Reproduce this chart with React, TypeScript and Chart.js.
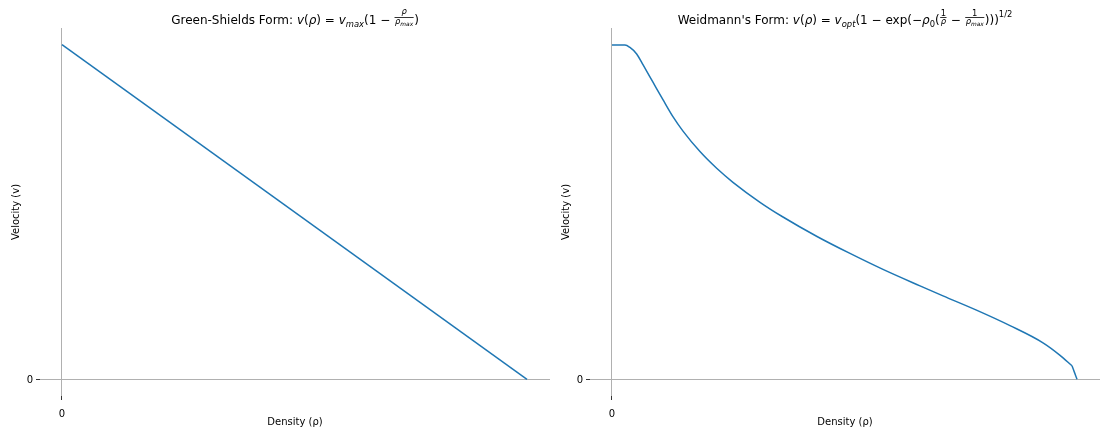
import React, { useEffect, useRef } from "react";
import { Chart, registerables } from "chart.js";

Chart.register(...registerables);

// ---------- data ----------
const greenDensity = [0, 5.4];
const greenVelocity = [1.34, 0];

// smooth part of Weidmann curve
const weidDensity = [0, 0.151, 0.209, 0.287, 0.36, 0.476, 0.592, 0.708, 0.825, 1.022, 1.219, 1.405, 1.719, 1.986, 2.381, 2.764, 3.147, 3.577, 3.844, 4.239, 4.622, 5.005, 5.203, 5.342];
const weidVelocity = [1.339, 1.339, 1.329, 1.303, 1.26, 1.19, 1.12, 1.052, 0.994, 0.912, 0.844, 0.789, 0.709, 0.65, 0.572, 0.504, 0.44, 0.374, 0.334, 0.276, 0.215, 0.146, 0.096, 0.054];
// final straight drop to jam density
const weidEndDensity = [5.342, 5.4];
const weidEndVelocity = [0.054, 0];

const xTicks = [0];
const yTicks = [0];
const xTickLabels = ["0"];
const yTickLabels = ["0"];

const X_MIN = -0.255;
const X_MAX = 5.667;
const Y_MIN = -0.067;
const Y_MAX = 1.407;

const xLabelText = "Density (ρ)";
const yLabelText = "Velocity (v)";

// ---------- math text ----------
type Seg =
  | { t: string; it?: boolean }
  | { sub: Seg[] }
  | { sup: Seg[] }
  | { num: Seg[]; den: Seg[] };

const FAM = '"DejaVu Sans"';
const fnt = (size: number, it?: boolean) => `${it ? "italic " : ""}${size}px ${FAM}`;

function box(ctx: CanvasRenderingContext2D, segs: Seg[], size: number, dy = 0) {
  let asc = 0, desc = 0;
  for (const s of segs) {
    if ("t" in s) {
      ctx.font = fnt(size, s.it);
      const m = ctx.measureText(s.t);
      asc = Math.max(asc, m.actualBoundingBoxAscent - dy);
      desc = Math.max(desc, m.actualBoundingBoxDescent + dy);
    } else if ("sub" in s) {
      const b = box(ctx, s.sub, size * 0.7, dy + size * 0.22);
      asc = Math.max(asc, b.asc); desc = Math.max(desc, b.desc);
    } else if ("sup" in s) {
      const b = box(ctx, s.sup, size * 0.7, dy - size * 0.55);
      asc = Math.max(asc, b.asc); desc = Math.max(desc, b.desc);
    }
  }
  return { asc, desc };
}

function render(ctx: CanvasRenderingContext2D, segs: Seg[], size: number, x: number, y: number, draw: boolean): number {
  let cx = x;
  for (const s of segs) {
    if ("t" in s) {
      ctx.font = fnt(size, s.it);
      const w = ctx.measureText(s.t).width;
      if (draw) ctx.fillText(s.t, cx, y);
      cx += w;
    } else if ("sub" in s) {
      cx += render(ctx, s.sub, size * 0.7, cx, y + size * 0.22, draw);
    } else if ("sup" in s) {
      cx += render(ctx, s.sup, size * 0.7, cx, y - size * 0.55, draw);
    } else {
      const fs = size * 0.7;
      const wn = render(ctx, s.num, fs, 0, 0, false);
      const wd = render(ctx, s.den, fs, 0, 0, false);
      const w = Math.max(wn, wd) + 2;
      if (draw) {
        const bar = y - size * 0.55;
        const bn = box(ctx, s.num, fs);
        const bd = box(ctx, s.den, fs);
        render(ctx, s.num, fs, cx + (w - wn) / 2, bar - 1.6 - bn.desc, true);
        render(ctx, s.den, fs, cx + (w - wd) / 2, bar + 1.8 + bd.asc, true);
        ctx.fillRect(cx + 0.5, bar - 0.4, w - 1, 0.8);
      }
      cx += w;
    }
  }
  return cx - x;
}

const leftTitle: Seg[] = [
  { t: "Green-Shields Form: " },
  { t: "v", it: true }, { t: "(" }, { t: "ρ", it: true }, { t: ")" }, { t: " = " },
  { t: "v", it: true }, { sub: [{ t: "max", it: true }] }, { t: "(1 − " },
  { num: [{ t: "ρ", it: true }], den: [{ t: "ρ", it: true }, { sub: [{ t: "max", it: true }] }] },
  { t: ")" },
];

const rightTitle: Seg[] = [
  { t: "Weidmann's Form: " },
  { t: "v", it: true }, { t: "(" }, { t: "ρ", it: true }, { t: ")" }, { t: " = " },
  { t: "v", it: true }, { sub: [{ t: "opt", it: true }] }, { t: "(1 − exp(−" },
  { t: "ρ", it: true }, { sub: [{ t: "0" }] }, { t: "(" },
  { num: [{ t: "1" }], den: [{ t: "ρ", it: true }] },
  { t: " − " },
  { num: [{ t: "1" }], den: [{ t: "ρ", it: true }, { sub: [{ t: "max", it: true }] }] },
  { t: ")))" },
  { sup: [{ t: "1/2" }] },
];

function annotate(title: Seg[], yLabelX: number) {
  return {
    id: "annotate",
    afterDraw(chart: any) {
      const ctx: CanvasRenderingContext2D = chart.ctx;
      const a = chart.chartArea;
      const cxm = (a.left + a.right) / 2;
      ctx.save();
      ctx.fillStyle = "#000";
      ctx.textAlign = "left";
      ctx.textBaseline = "alphabetic";
      const w = render(ctx, title, 12, 0, 0, false);
      render(ctx, title, 12, cxm - w / 2, 24, true);
      ctx.font = fnt(10);
      ctx.textAlign = "center";
      ctx.textBaseline = "middle";
      ctx.fillText(xLabelText, cxm, 422);
      ctx.translate(yLabelX, (a.top + a.bottom) / 2);
      ctx.rotate(-Math.PI / 2);
      ctx.fillText(yLabelText, 0, 0);
      ctx.restore();
    },
  };
}

const lineStyle = {
  borderColor: "#1f77b4",
  borderWidth: 1.5,
  pointRadius: 0,
  fill: false,
};

function toPts(xs: number[], ys: number[]) {
  return xs.map((x, i) => ({ x, y: ys[i] }));
}

function makeConfig(datasets: any[], yWidth: number, rightPad: number, title: Seg[], yLabelX: number): any {
  return {
    type: "line",
    data: { datasets },
    options: {
      animation: false,
      responsive: false,
      devicePixelRatio: 1,
      layout: { padding: { top: 28, right: rightPad, left: 0, bottom: 0 } },
      plugins: { legend: { display: false }, tooltip: { enabled: false }, title: { display: false } },
      scales: {
        x: {
          type: "linear",
          min: X_MIN,
          max: X_MAX,
          afterBuildTicks: (s: any) => { s.ticks = xTicks.map((v) => ({ value: v })); },
          afterFit: (s: any) => { s.height = 33; },
          border: { display: false },
          grid: { color: "#b0b0b0", lineWidth: 1, tickColor: "#000", tickLength: 4, tickWidth: 0.8 },
          ticks: {
            color: "#000",
            font: { size: 10, family: "DejaVu Sans" },
            padding: 8,
            maxRotation: 0,
            callback: (_v: any, i: number) => xTickLabels[i],
          },
        },
        y: {
          type: "linear",
          min: Y_MIN,
          max: Y_MAX,
          afterBuildTicks: (s: any) => { s.ticks = yTicks.map((v) => ({ value: v })); },
          afterFit: (s: any) => { s.width = yWidth; },
          border: { display: false },
          grid: { color: "#b0b0b0", lineWidth: 1, tickColor: "#000", tickLength: 4, tickWidth: 0.8 },
          ticks: {
            color: "#000",
            font: { size: 10, family: "DejaVu Sans" },
            padding: 3,
            labelOffset: 1,
            callback: (_v: any, i: number) => yTickLabels[i],
          },
        },
      },
    },
    plugins: [annotate(title, yLabelX)],
  };
}

export default function App() {
  const leftRef = useRef<HTMLCanvasElement>(null);
  const rightRef = useRef<HTMLCanvasElement>(null);

  useEffect(() => {
    document.body.style.margin = "0";
    const c1 = new Chart(
      leftRef.current!,
      makeConfig([{ ...lineStyle, data: toPts(greenDensity, greenVelocity) }], 40, 2, leftTitle, 16)
    );
    const c2 = new Chart(
      rightRef.current!,
      makeConfig(
        [
          { ...lineStyle, data: toPts(weidDensity, weidVelocity), cubicInterpolationMode: "monotone" },
          { ...lineStyle, data: toPts(weidEndDensity, weidEndVelocity) },
        ],
        38,
        4,
        rightTitle,
        14
      )
    );
    return () => {
      c1.destroy();
      c2.destroy();
    };
  }, []);

  return (
    <div style={{ position: "relative", width: 1104, height: 429, background: "#fff" }}>
      <canvas ref={leftRef} width={552} height={429} style={{ position: "absolute", left: 0, top: 0 }} />
      <canvas ref={rightRef} width={552} height={429} style={{ position: "absolute", left: 552, top: 0 }} />
    </div>
  );
}
